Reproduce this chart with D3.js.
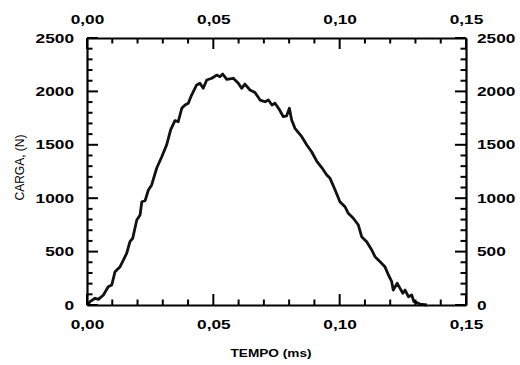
<!DOCTYPE html>
<html>
<head>
<meta charset="utf-8">
<script src="https://cdn.jsdelivr.net/npm/d3@7"></script>
<style>
  body { margin: 0; background: #fff; }
</style>
</head>
<body>
<script>
// tempo (ms) e carga (N)
const tempo = [0.0000, 0.0012, 0.0032, 0.0045, 0.0065, 0.0084, 0.0098, 0.0111, 0.0131, 0.0144,
  0.0157, 0.0170, 0.0181, 0.0197, 0.0210, 0.0217, 0.0230, 0.0243, 0.0256, 0.0276,
  0.0296, 0.0315, 0.0331, 0.0348, 0.0361, 0.0375, 0.0388, 0.0401, 0.0414, 0.0434,
  0.0447, 0.0460, 0.0474, 0.0494, 0.0513, 0.0526, 0.0537, 0.0553, 0.0579, 0.0599,
  0.0612, 0.0625, 0.0645, 0.0665, 0.0685, 0.0705, 0.0718, 0.0732, 0.0744, 0.0760,
  0.0777, 0.0790, 0.0801, 0.0810, 0.0823, 0.0850, 0.0870, 0.0889, 0.0909, 0.0929,
  0.0949, 0.0962, 0.0982, 0.1001, 0.1021, 0.1034, 0.1054, 0.1074, 0.1087, 0.1107,
  0.1127, 0.1140, 0.1160, 0.1179, 0.1193, 0.1206, 0.1212, 0.1228, 0.1239, 0.1250,
  0.1259, 0.1272, 0.1285, 0.1294, 0.1305, 0.1318, 0.1345];
const carga = [0, 31, 63, 53, 94, 171, 187, 312, 359, 421,
  484, 593, 625, 796, 843, 967, 977, 1077, 1124, 1283,
  1388, 1498, 1639, 1726, 1716, 1842, 1873, 1889, 1966, 2060,
  2076, 2029, 2107, 2123, 2153, 2138, 2163, 2113, 2123, 2076,
  2029, 2069, 2013, 1990, 1919, 1903, 1919, 1873, 1889, 1835,
  1763, 1770, 1842, 1732, 1654, 1576, 1498, 1435, 1348, 1287,
  1217, 1186, 1077, 967, 920, 859, 812, 749, 640, 593,
  515, 452, 405, 359, 281, 218, 140, 203, 156, 110,
  140, 78, 94, 31, 22, 9, 0];

const xMajor = [0, 0.05, 0.10, 0.15];
const yMajor = [0, 500, 1000, 1500, 2000, 2500];

const svg = d3.select("body").append("svg")
  .attr("width", 520)
  .attr("height", 365)
  .style("background-color", "#fff");

const x = d3.scaleLinear().domain([0, 0.15]).range([87, 466]);
const y = d3.scaleLinear().domain([0, 2500]).range([305, 38]);

const fmtX = d => d3.format(".2f")(d).replace(".", ",");
const fmtY = d3.format("d");
const sx = 1.33; // os rotulos do original sao largos

// curva
const dados = tempo.map((t, i) => [t, carga[i]]);
const line = d3.line().x(d => x(d[0])).y(d => y(d[1]));
svg.append("path")
  .datum(dados)
  .attr("fill", "none")
  .attr("stroke", "#111")
  .attr("stroke-width", 2.8)
  .attr("stroke-linejoin", "round")
  .attr("d", line);

function styleAxis(g) {
  g.selectAll(".domain").attr("stroke", "#000").attr("stroke-width", 2.2);
  g.selectAll("text")
    .attr("font-family", "'Liberation Sans', Arial, sans-serif")
    .attr("font-weight", "bold")
    .attr("font-size", "13px")
    .attr("fill", "#000")
    .attr("transform", `scale(${sx},1)`);
}

// eixos (rotulos e linhas)
svg.append("g").attr("transform", "translate(0,305)")
  .call(d3.axisBottom(x).tickValues(xMajor).tickSize(0).tickPadding(15).tickFormat(fmtX))
  .call(styleAxis);
svg.append("g").attr("transform", "translate(0,38)")
  .call(d3.axisTop(x).tickValues(xMajor).tickSize(0).tickPadding(14).tickFormat(fmtX))
  .call(styleAxis);
svg.append("g").attr("transform", "translate(87,0)")
  .call(d3.axisLeft(y).tickValues(yMajor).tickSize(0).tickPadding(13 / sx).tickFormat(fmtY))
  .call(styleAxis);
svg.append("g").attr("transform", "translate(466,0)")
  .call(d3.axisRight(y).tickValues(yMajor).tickSize(0).tickPadding(11 / sx).tickFormat(fmtY))
  .call(styleAxis);

// marcas para dentro: principais 11 px, secundarias 5.5 px
const marcas = svg.append("g").attr("stroke", "#000");
const xTicks = x.ticks(15);
const yTicks = y.ticks(25);
const len = (d, major) => major.some(m => Math.abs(m - d) < 1e-9) ? 11 : 5.5;

marcas.selectAll("line.xb").data(xTicks).join("line").attr("class", "xb")
  .attr("x1", d => x(d)).attr("x2", d => x(d))
  .attr("y1", y(0)).attr("y2", d => y(0) - len(d, xMajor))
  .attr("stroke-width", 2);
marcas.selectAll("line.xt").data(xTicks).join("line").attr("class", "xt")
  .attr("x1", d => x(d)).attr("x2", d => x(d))
  .attr("y1", y(2500)).attr("y2", d => y(2500) + len(d, xMajor))
  .attr("stroke-width", 2);
marcas.selectAll("line.yl").data(yTicks).join("line").attr("class", "yl")
  .attr("y1", d => y(d)).attr("y2", d => y(d))
  .attr("x1", x(0)).attr("x2", d => x(0) + len(d, yMajor))
  .attr("stroke-width", 2);
marcas.selectAll("line.yr").data(yTicks).join("line").attr("class", "yr")
  .attr("y1", d => y(d)).attr("y2", d => y(d))
  .attr("x1", x(0.15)).attr("x2", d => x(0.15) - len(d, yMajor))
  .attr("stroke-width", 2);

// titulos dos eixos
svg.append("text")
  .attr("transform", "translate(271,356.5) scale(1.3,1)")
  .attr("text-anchor", "middle")
  .attr("font-family", "'Liberation Sans', Arial, sans-serif")
  .attr("font-weight", "bold")
  .attr("font-size", "10.5px")
  .attr("fill", "#000")
  .text("TEMPO (ms)");

svg.append("text")
  .attr("transform", "translate(24.3,167.5) rotate(-90)")
  .attr("text-anchor", "middle")
  .attr("font-family", "'Liberation Sans', Arial, sans-serif")
  .attr("font-size", "12px")
  .attr("fill", "#000")
  .text("CARGA, (N)");
</script>
</body>
</html>
